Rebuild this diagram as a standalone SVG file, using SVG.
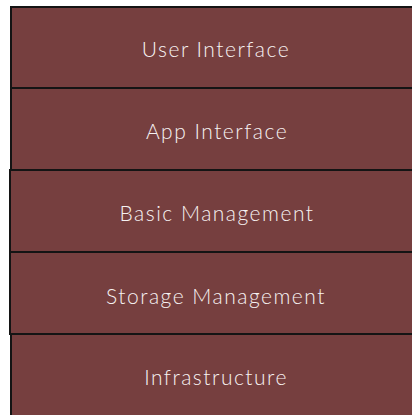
<svg xmlns="http://www.w3.org/2000/svg" width="412" height="415" viewBox="0 0 412 415">
<style>
.layer{fill:#763f3f;stroke:#141414;stroke-width:2}
.lbl{fill:#f6f2f2;font-family:"Century Gothic",Lato,"DejaVu Sans",sans-serif;font-size:21px;font-weight:300;letter-spacing:1.5px;text-anchor:middle;dominant-baseline:central}
</style>
<rect x="0" y="0" width="412" height="415" fill="#ffffff"/>
<g id="user-interface"><rect class="layer" x="11" y="7" width="410" height="81"/><text class="lbl" x="216" y="48">User Interface</text></g>
<g id="app-interface"><rect class="layer" x="11" y="88" width="410" height="82"/><text class="lbl" x="217" y="130">App Interface</text></g>
<g id="basic-management"><rect class="layer" x="10" y="170" width="411" height="82"/><text class="lbl" x="217" y="212">Basic Management</text></g>
<g id="storage-management"><rect class="layer" x="10" y="252" width="411" height="82"/><text class="lbl" x="216" y="295">Storage Management</text></g>
<g id="infrastructure"><rect class="layer" x="11" y="334" width="410" height="90"/><text class="lbl" x="216" y="376">Infrastructure</text></g>
<g id="connectors"></g>
</svg>
